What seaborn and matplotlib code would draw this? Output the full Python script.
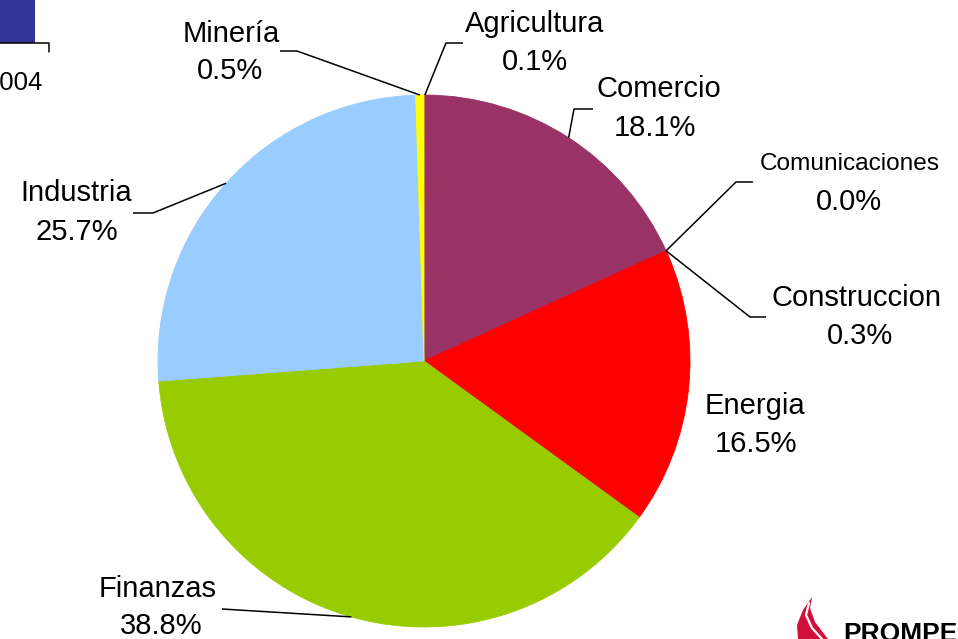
import matplotlib
matplotlib.use("Agg")
import matplotlib.pyplot as plt
import seaborn as sns
import numpy as np
from matplotlib.patches import Rectangle, Polygon

sns.set_theme(style="white")
plt.rcParams['font.family'] = ['Liberation Sans', 'DejaVu Sans']

# ---- data ----
sectors = ["Agricultura", "Comercio", "Comunicaciones", "Construccion",
           "Energia", "Finanzas", "Industria", "Minería"]
shares = [0.1, 18.1, 0.0, 0.3, 16.5, 38.8, 25.7, 0.5]
pct_labels = ["0.1%", "18.1%", "0.0%", "0.3%", "16.5%", "38.8%", "25.7%", "0.5%"]
colors = ["#993366", "#993366", "#993366", "#FF0000",
          "#FF0000", "#99CC00", "#99CCFF", "#FFFF00"]

W, H = 958, 639
fig = plt.figure(figsize=(W / 100, H / 100), dpi=100)
ax = fig.add_axes([0, 0, 1, 1])

def fy(y):  # pixel-from-top to data y
    return H - y

cx, cy, R = 424, fy(361), 266
wedges, _ = ax.pie(shares, colors=colors, startangle=90, counterclock=False,
                   center=(cx, cy), radius=R, wedgeprops=dict(linewidth=0))
for w in wedges:
    w.set_edgecolor(w.get_facecolor())
    w.set_linewidth(0.6)
ax.set_xlim(0, W)
ax.set_ylim(0, H)
ax.set_aspect('equal', adjustable='box')
ax.axis('off')

# anchor points on the pie edge, from cumulative shares
total = sum(shares)
cum = np.cumsum([0] + shares)
def anchor(i, frac=0.5):
    f = (cum[i] + shares[i] * frac) / total
    ang = np.deg2rad(90 - 360 * f)
    return cx + R * np.cos(ang), cy + R * np.sin(ang)

# label layout: (name x, pct x, name y, pct y, fontsize, elbow points in px)
layout = {
    "Agricultura":    (535, 535, 24, 62, 21, [(463, 43), (446, 43)]),
    "Comercio":       (659, 655, 89, 128, 21, [(593, 109), (574, 109)]),
    "Comunicaciones": (850, 849, 164, 202, 17.6, [(753, 182), (736, 182)]),
    "Construccion":   (857, 860, 298, 336, 21, [(766, 317), (750, 317)]),
    "Energia":        (755, 756, 406, 444, 21, None),
    "Finanzas":       (158, 161, 589, 626, 21, [(222, 609)]),
    "Industria":      (76, 77, 193, 232, 21, [(133, 213), (153, 213)]),
    "Minería":        (231, 230, 34, 71, 21, [(280, 51), (297, 51)]),
}

for i, (name, pct) in enumerate(zip(sectors, pct_labels)):
    nx, px, ny, py, fs, elbow = layout[name]
    ax.text(nx, fy(ny), name, ha='center', va='center', fontsize=fs, color='black')
    ax.text(px, fy(py), pct, ha='center', va='center', fontsize=21, color='black')
    if elbow is not None:
        frac = 0.0 if name in ("Comunicaciones", "Construccion") else 0.5
        axp, ayp = anchor(i, frac)
        xs = [p[0] for p in elbow] + [axp]
        ys = [fy(p[1]) for p in elbow] + [ayp]
        ax.plot(xs, ys, color='black', lw=1.1, solid_capstyle='butt')

# cropped legend remnant at top-left
ax.add_patch(Rectangle((0, fy(43)), 35, 43, color='#333399', lw=0))
ax.plot([0, 49, 49], [fy(43), fy(43), fy(52)], color='black', lw=1.1)
ax.text(43, fy(83), "2004", ha='right', va='center', fontsize=18.5, color='black')

# cropped logo at bottom-right
ax.add_patch(Polygon([(812, fy(597)), (803, fy(610)), (797, fy(625)), (798, fy(639)),
                      (828, fy(639)), (815, fy(622)), (810, fy(608))],
                     closed=True, color='#D0103A', lw=0))
ax.plot([809, 806, 812, 822], [fy(603), fy(615), fy(628), fy(639)], color='white', lw=1.6)
ax.text(843, fy(622), "PROMPEX", ha='left', va='top', fontsize=19,
        fontweight='bold', color='black')

fig.savefig("out.png", dpi=100)
